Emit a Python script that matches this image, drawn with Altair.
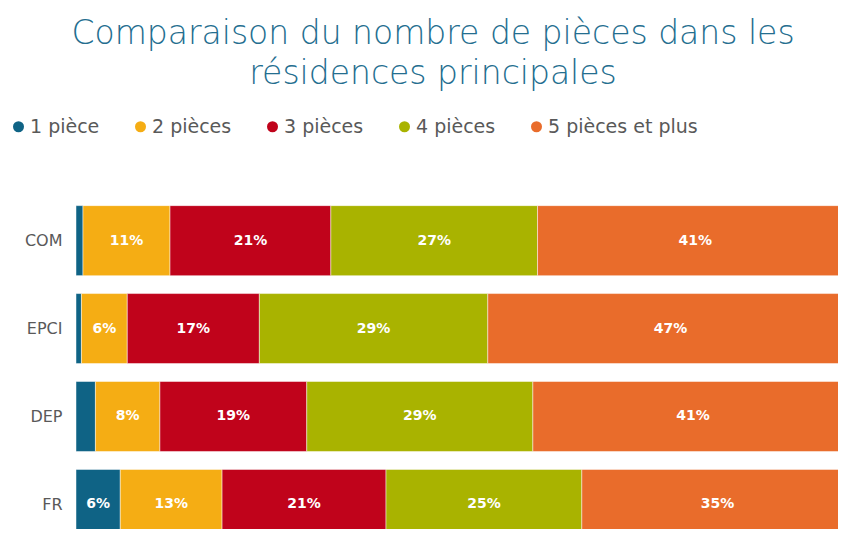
import json
import altair as alt
import pandas as pd

categories = ["COM", "EPCI", "DEP", "FR"]
series = ["1 pièce", "2 pièces", "3 pièces", "4 pièces", "5 pièces et plus"]
colors = ["#0F6385", "#F5AD14", "#C0031B", "#A9B300", "#E96C2B"]

# share (%) of each room-count class, per territory (COM, EPCI, DEP, FR)
p1 = [0.9, 0.7, 2.5, 5.7]
p2 = [11.2, 5.9, 8.3, 13.1]
p3 = [20.7, 17.0, 18.9, 21.1]
p4 = [26.6, 29.4, 29.1, 25.2]
p5 = [40.6, 47.0, 41.2, 34.9]
values = [p1, p2, p3, p4, p5]

rows = []
for i, cat in enumerate(categories):
    cum = 0.0
    for k, s in enumerate(series):
        v = values[k][i]
        rows.append({
            "cat": cat, "idx": i, "serie": s, "order": k,
            "start": cum, "end": cum + v, "mid": cum + v / 2,
            "label": f"{round(v)}%" if v >= 5 else "",
        })
        cum += v
df = pd.DataFrame(rows)

FONT = "DejaVu Sans"

xscale = alt.Scale(domain=[0, 98.07], nice=False, zero=False)
yscale = alt.Scale(domain=[-0.519, 3.223], reverse=True, nice=False, zero=False)

bars = alt.Chart(df).mark_bar(size=70, clip=True, stroke="#ffffff", strokeWidth=0.8, strokeOpacity=0.6).encode(
    x=alt.X("start:Q", scale=xscale, axis=None),
    x2="end:Q",
    y=alt.Y("idx:Q", scale=yscale, axis=alt.Axis(
        title=None, values=[0, 1, 2, 3],
        labelExpr=f"{json.dumps(categories)}[datum.value]",
        ticks=False, domain=False, grid=False,
        labelFont=FONT, labelFontSize=16, labelColor="#595959", labelPadding=14,
    )),
    color=alt.Color("serie:N", scale=alt.Scale(domain=series, range=colors), legend=alt.Legend(
        title=None, orient="none", legendX=-67, legendY=-73, direction="horizontal",
        symbolType="circle", symbolSize=121, symbolStrokeWidth=0,
        labelFont=FONT, labelFontSize=19, labelColor="#595959",
        columnPadding=31, labelOffset=2,
    )),
)

text = alt.Chart(df).mark_text(color="white", font=FONT, fontSize=14, fontWeight="bold").encode(
    x=alt.X("mid:Q", scale=xscale),
    y=alt.Y("idx:Q", scale=yscale),
    text="label:N",
)

chart = alt.layer(bars, text).properties(
    width=762,
    height=339,
    padding={"left": 68, "top": 182, "right": 0, "bottom": 0},
    autosize=alt.AutoSizeParams(type="none"),
    title=alt.TitleParams(
        text=["Comparaison du nombre de pièces dans les", "résidences principales"],
        font=FONT, fontSize=33, fontWeight=300, color="#246E8F",
        anchor="middle", frame="group", dx=-24, lineHeight=40, offset=26,
    ),
).configure_view(stroke=None)

chart.save("out.html", embed_options={"renderer": "svg", "actions": False})
